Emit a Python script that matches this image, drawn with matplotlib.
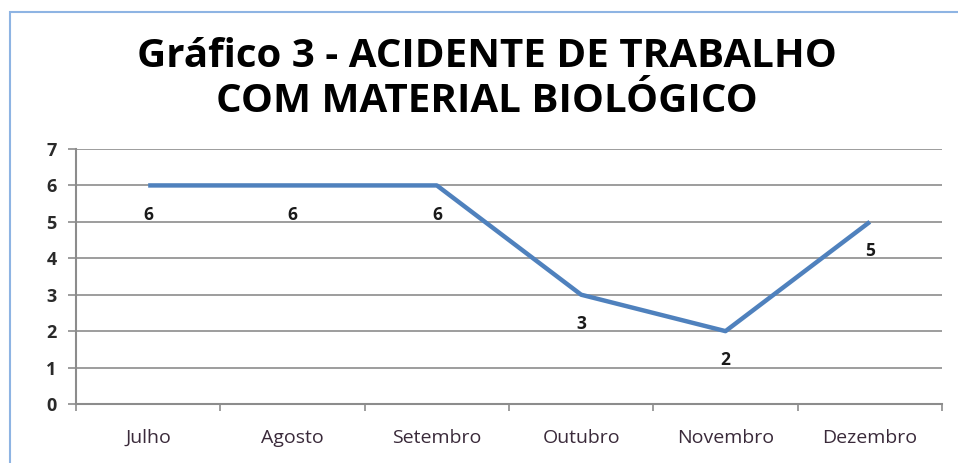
import matplotlib
matplotlib.use("Agg")
import matplotlib.pyplot as plt
from matplotlib.patches import Rectangle

# dados do grafico
meses = ["Julho", "Agosto", "Setembro", "Outubro", "Novembro", "Dezembro"]
acidentes = [6, 6, 6, 3, 2, 5]
titulo = "Gráfico 3 - ACIDENTE DE TRABALHO\nCOM MATERIAL BIOLÓGICO"

plt.rcParams['font.family'] = ['Open Sans', 'DejaVu Sans']

fig = plt.figure(figsize=(9.58, 4.63), dpi=100)
ax = fig.add_axes([76/958, 1 - 404/463, 866/958, 255/463])

x = list(range(len(meses)))
ax.plot(x, acidentes, color='#4F81BD', linewidth=3.2, solid_capstyle='butt')

# rotulos de dados abaixo dos pontos
for xi, yi in zip(x, acidentes):
    ax.annotate(str(yi), (xi, yi), xytext=(0, -21), textcoords='offset points',
                ha='center', va='center', fontsize=12.5, fontweight='bold', color='#1a1a1a')

ax.set_xlim(-0.5, len(meses) - 0.5)
ax.set_ylim(0, 7)
ax.set_yticks(range(0, 8))
ax.set_xticks(x)
ax.set_xticklabels(meses)
ax.set_xticks([i - 0.5 for i in range(len(meses) + 1)], minor=True)
ax.tick_params(axis='x', which='major', length=0, pad=18, labelsize=14, labelcolor='#3a2a3a')
ax.tick_params(axis='x', which='minor', length=5, width=1.2, color='#8c8c8c', direction='out')
ax.tick_params(axis='y', length=6, width=1.2, color='#8c8c8c', pad=8, labelsize=13, labelcolor='#2a2a2a')
for lbl in ax.get_yticklabels():
    lbl.set_fontweight('bold')

ax.grid(axis='y', color='#8c8c8c', linewidth=1.2)
ax.set_axisbelow(True)
for s in ['top', 'right']:
    ax.spines[s].set_visible(False)
ax.spines['left'].set_color('#8c8c8c')
ax.spines['bottom'].set_color('#8c8c8c')
ax.spines['left'].set_linewidth(1.5)
ax.spines['bottom'].set_linewidth(1.5)

fig.text(487/958, 1 - 79/463, titulo, ha='center', va='center', fontsize=29,
         fontweight='bold', linespacing=1.2, color='black')

# borda azul do quadro
fig.patches.append(Rectangle((10/958, -0.05), 1.1, 1 - 12/463 + 0.05, transform=fig.transFigure,
                             fill=False, edgecolor='#8EB4E3', linewidth=1.5))

fig.savefig("out.png", dpi=100)
